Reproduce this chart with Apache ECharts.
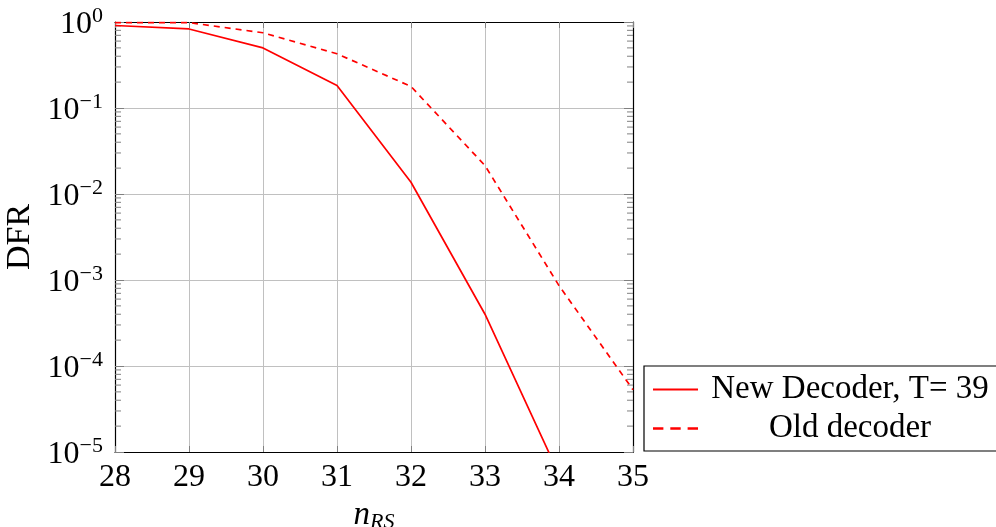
<!DOCTYPE html>
<html>
<head>
<meta charset="utf-8">
<script src="https://cdn.jsdelivr.net/npm/echarts@6/dist/echarts.min.js"></script>
<style>
html,body{margin:0;padding:0;background:#fff;overflow:hidden;}
#c{width:996px;height:527px;}
</style>
</head>
<body>
<div id="c"></div>
<script>
const xValues = [28, 29, 30, 31, 32, 33, 34, 35];
const newDecoder = [0.91, 0.83, 0.50, 0.183, 0.0137, 0.0004, 0.0000055];
const oldDecoder = [0.985, 0.985, 0.75, 0.427, 0.178, 0.0214, 0.00086, 0.000053];
const seriesNames = ['New Decoder, T= 39', 'Old decoder'];
const yDecades = [-5, -4, -3, -2, -1, 0];
const minorMult = [2, 3, 4, 5, 6, 7, 8, 9];

const FONT = '"Liberation Serif", "DejaVu Serif", serif';
const RED = '#ff0000';

const minorTickValues = [];
yDecades.slice(0, -1).forEach(function (e) {
  minorMult.forEach(function (m) { minorTickValues.push([m * Math.pow(10, e)]); });
});

function pairs(vals) { return vals.map(function (v, i) { return [xValues[i], v]; }); }

const chart = echarts.init(document.getElementById('c'), null, { width: 996, height: 527 });
chart.setOption({
  animation: false,
  backgroundColor: '#fff',
  grid: { left: 115, width: 518, top: 22, height: 430, containLabel: false, outerBoundsMode: 'none' },
  xAxis: [{
    type: 'value', min: 28, max: 35, interval: 1,
    position: 'bottom',
    axisLine: { show: true, onZero: false, lineStyle: { color: '#000', width: 1.2 } },
    axisTick: { show: true, inside: true, length: 6, lineStyle: { color: '#808080' } },
    axisLabel: { show: true, margin: 10, fontFamily: FONT, fontSize: 32, color: '#000' },
    splitLine: { show: true, lineStyle: { color: '#c0c0c0', width: 1 } },
    name: '{n|n}{s|RS}',
    nameLocation: 'middle', nameGap: 39,
    nameTextStyle: {
      rich: {
        n: { fontFamily: FONT, fontStyle: 'italic', fontSize: 33, color: '#000' },
        s: { fontFamily: FONT, fontStyle: 'italic', fontSize: 22, color: '#000', padding: [14, 0, 0, 0] }
      }
    }
  }, {
    type: 'value', min: 28, max: 35, interval: 1,
    position: 'top',
    axisLine: { show: true, onZero: false, lineStyle: { color: '#000', width: 1.2 } },
    axisTick: { show: true, inside: true, length: 6, lineStyle: { color: '#808080' } },
    axisLabel: { show: false },
    splitLine: { show: false }
  }],
  yAxis: [{
    type: 'log', logBase: 10, min: 1e-5, max: 1,
    position: 'left',
    axisLine: { show: true, onZero: false, lineStyle: { color: '#000', width: 1.2 } },
    axisTick: { show: true, inside: true, length: 9, lineStyle: { color: '#808080' } },
    axisLabel: {
      show: true, margin: 12, color: '#000',
      formatter: function (v) {
        const e = Math.round(Math.log10(v));
        return '{b|10}{s|' + (e < 0 ? '\u2212' + (-e) : e) + '}';
      },
      rich: {
        b: { fontFamily: FONT, fontSize: 32, color: '#000', padding: [6, 0, 0, 0] },
        s: { fontFamily: FONT, fontSize: 22, color: '#000', padding: [0, 0, 12, 0] }
      }
    },
    splitLine: { show: true, lineStyle: { color: '#c0c0c0', width: 1 } },
    name: 'DFR', nameLocation: 'middle', nameGap: 73, nameRotate: 90,
    nameTextStyle: { fontFamily: FONT, fontSize: 34, color: '#000' }
  }, {
    type: 'log', logBase: 10, min: 1e-5, max: 1,
    position: 'right',
    axisLine: { show: true, onZero: false, lineStyle: { color: '#000', width: 1.2 } },
    axisTick: { show: true, inside: true, length: 9, lineStyle: { color: '#808080' } },
    axisLabel: { show: false },
    splitLine: { show: false }
  }],
  legend: {
    left: 644, top: 366,
    orient: 'vertical',
    padding: [7, 9, 6, 9],
    itemGap: 6,
    itemWidth: 45, itemHeight: 14,
    borderColor: '#000', borderWidth: 1.2,
    backgroundColor: '#fff',
    data: [
      { name: seriesNames[0], icon: 'path://M0,0h45v2h-45z', itemStyle: { color: RED } },
      { name: seriesNames[1], icon: 'path://M0,0h9v2h-9zM15,0h9v2h-9zM30,0h9v2h-9z', itemStyle: { color: RED } }
    ],
    formatter: function (n) { return '{t|' + n + '}'; },
    textStyle: {
      padding: [0, 0, 0, 2],
      rich: { t: { fontFamily: FONT, fontSize: 33, color: '#000', width: 290, align: 'center', lineHeight: 32 } }
    }
  },
  series: [{
    name: seriesNames[0], type: 'line', data: pairs(newDecoder),
    symbol: 'none', clip: true,
    lineStyle: { color: RED, width: 1.7, type: 'solid' },
    itemStyle: { color: RED }
  }, {
    name: seriesNames[1], type: 'line', data: pairs(oldDecoder),
    symbol: 'none', clip: true,
    lineStyle: { color: RED, width: 1.7, type: [6, 5] },
    itemStyle: { color: RED }
  }, {
    type: 'custom', silent: true, z: 3,
    data: minorTickValues,
    renderItem: function (params, api) {
      const v = api.value(0);
      const l = api.coord([28, v]);
      const r = api.coord([35, v]);
      return {
        type: 'group',
        children: [
          { type: 'line', shape: { x1: l[0], y1: l[1], x2: l[0] + 6, y2: l[1] }, style: { stroke: '#808080', lineWidth: 1 } },
          { type: 'line', shape: { x1: r[0], y1: r[1], x2: r[0] - 6, y2: r[1] }, style: { stroke: '#808080', lineWidth: 1 } }
        ]
      };
    }
  }]
});
</script>
</body>
</html>
